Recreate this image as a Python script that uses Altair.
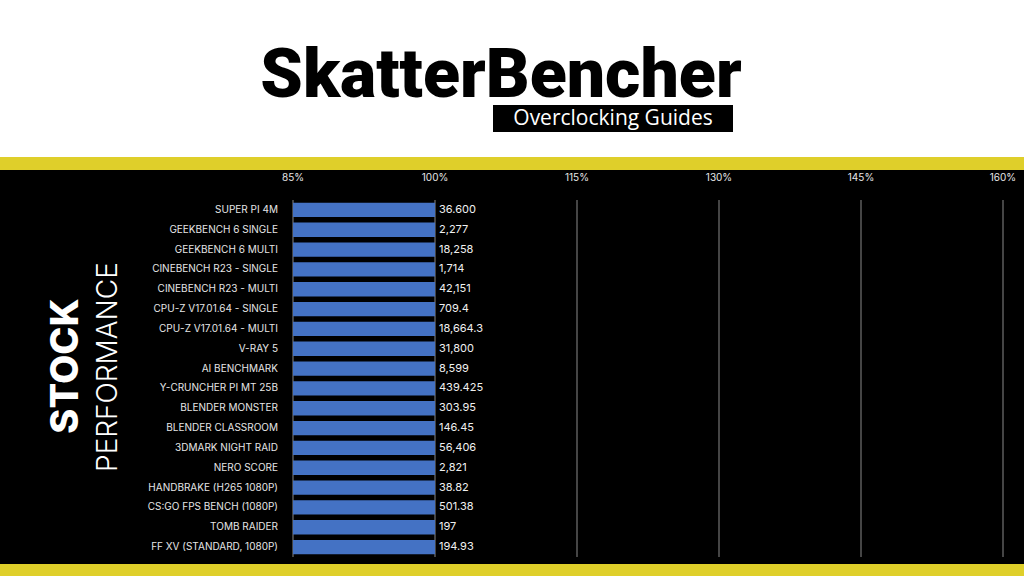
import altair as alt
import pandas as pd

benchmarks = ["SUPER PI 4M", "GEEKBENCH 6 SINGLE", "GEEKBENCH 6 MULTI",
              "CINEBENCH R23 - SINGLE", "CINEBENCH R23 - MULTI",
              "CPU-Z V17.01.64 - SINGLE", "CPU-Z V17.01.64 - MULTI", "V-RAY 5",
              "AI BENCHMARK", "Y-CRUNCHER PI MT 25B", "BLENDER MONSTER",
              "BLENDER CLASSROOM", "3DMARK NIGHT RAID", "NERO SCORE",
              "HANDBRAKE (H265 1080P)", "CS:GO FPS BENCH (1080P)", "TOMB RAIDER",
              "FF XV (STANDARD, 1080P)"]
relative = [100] * 18
scores = ["36.600", "2,277", "18,258", "1,714", "42,151", "709.4", "18,664.3",
          "31,800", "8,599", "439.425", "303.95", "146.45", "56,406", "2,821",
          "38.82", "501.38", "197", "194.93"]
tick_values = [85, 100, 115, 130, 145, 160]
tick_labels = ["85%", "100%", "115%", "130%", "145%", "160%"]

W, H = 1024, 576
YELLOW = "#DFCF2A"
BLUE = "#4472C4"
LABEL_FONT = "Inter"

df = pd.DataFrame({"bench": benchmarks, "pct": relative, "score": scores})
ticks = pd.DataFrame({"t": tick_values, "lab": tick_labels})
one = pd.DataFrame({"a": [0]})

xscale = alt.Scale(domain=[85, 160], range=[293, 1003], zero=False, nice=False)
yscale = alt.Scale(domain=benchmarks, range=[200, 557], paddingInner=0.28, paddingOuter=0.14)

def rect(x, x2, y, y2, color):
    return alt.Chart(one).mark_rect(color=color).encode(
        x=alt.value(x), x2=alt.value(x2), y=alt.value(y), y2=alt.value(y2))

def label(text, x, y, **kw):
    return alt.Chart(one).mark_text(text=text, **kw).encode(
        x=alt.value(x), y=alt.value(y))

header = rect(0, W, 0, 157, "white")
band_top = rect(0, W, 157, 170, YELLOW)
band_bot = rect(0, W, 564, H, YELLOW)
subtitle_box = rect(493, 733, 105, 132, "black")

title = label("SkatterBencher", 501, 97, font="Roboto", fontSize=68,
              fontWeight=900, color="black", align="center", baseline="alphabetic")
subtitle = label("Overclocking Guides", 613, 119, font="Open Sans", fontSize=21,
                 color="white", align="center", baseline="middle")
stock = label("STOCK", 67, 366, font="Inter", fontSize=38, fontWeight=800,
              color="white", angle=270, align="center", baseline="middle")
perf = label("PERFORMANCE", 109, 367, font="Inter", fontSize=28, fontWeight=300,
             color="white", angle=270, align="center", baseline="middle")

grid = alt.Chart(ticks).mark_rule(color="#8a8a8a", strokeWidth=1).encode(
    x=alt.X("t:Q", scale=xscale, axis=None),
    y=alt.value(200), y2=alt.value(557))
tick_text = alt.Chart(ticks).mark_text(font=LABEL_FONT, fontSize=10, color="#e6e6e6",
                                       baseline="middle", align="center").encode(
    x=alt.X("t:Q", scale=xscale, axis=None), y=alt.value(178), text="lab:N")

bars = alt.Chart(df).mark_bar(color=BLUE).encode(
    y=alt.Y("bench:N", scale=yscale, sort=None, axis=None),
    x=alt.X("pct:Q", scale=xscale, axis=None),
    x2=alt.datum(85))
names = alt.Chart(df).mark_text(font=LABEL_FONT, fontSize=10, color="#e6e6e6",
                                align="right", baseline="middle").encode(
    y=alt.Y("bench:N", scale=yscale, sort=None, axis=None),
    x=alt.value(278), text="bench:N")
values = alt.Chart(df).mark_text(font=LABEL_FONT, fontSize=11, color="#f0f0f0",
                                 align="left", baseline="middle", dx=4).encode(
    y=alt.Y("bench:N", scale=yscale, sort=None, axis=None),
    x=alt.X("pct:Q", scale=xscale, axis=None), text="score:N")

chart = alt.layer(header, band_top, band_bot, subtitle_box, title, subtitle,
                  stock, perf, grid, tick_text, bars, names, values).properties(
    width=W, height=H, background="black", padding=0,
    autosize=alt.AutoSizeParams(type="none")
).configure_view(stroke=None)

chart.save("out.html", embed_options={"renderer": "svg", "actions": False})
